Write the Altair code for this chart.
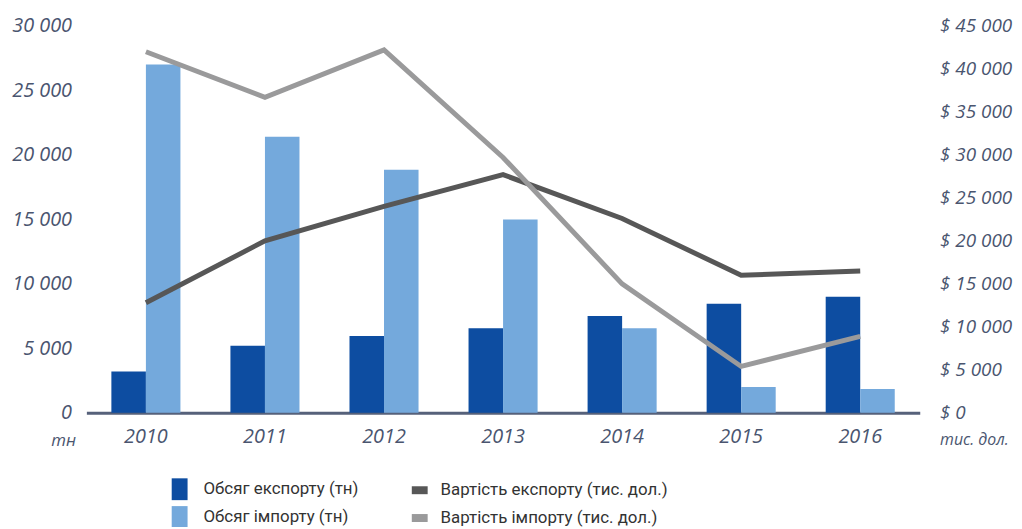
import altair as alt
import pandas as pd

years = ["2010", "2011", "2012", "2013", "2014", "2015", "2016"]
export_volume = [3200, 5200, 5950, 6550, 7500, 8450, 9000]
import_volume = [27000, 21400, 18850, 15000, 6550, 2000, 1850]
export_value = [12800, 20000, 24000, 27700, 22600, 16000, 16500]
import_value = [42000, 36700, 42200, 29700, 15000, 5400, 8900]

bar_series = ["Обсяг експорту (тн)", "Обсяг імпорту (тн)"]
line_series = ["Вартість експорту (тис. дол.)", "Вартість імпорту (тис. дол.)"]

bar_colors = ["#0d4da1", "#74a9dc"]
line_colors = ["#575757", "#9a9a9b"]

left_ticks = [0, 5000, 10000, 15000, 20000, 25000, 30000]
right_ticks = [0, 5000, 10000, 15000, 20000, 25000, 30000, 35000, 40000, 45000]

bar_df = pd.DataFrame(
    [{"year": y, "series": bar_series[0], "value": v} for y, v in zip(years, export_volume)]
    + [{"year": y, "series": bar_series[1], "value": v} for y, v in zip(years, import_volume)]
)
line_df = pd.DataFrame(
    [{"year": y, "series": line_series[0], "value": v} for y, v in zip(years, export_value)]
    + [{"year": y, "series": line_series[1], "value": v} for y, v in zip(years, import_value)]
)

AX_COLOR = "#4a556f"
AX_FONT = "Open Sans"
LEG_FONT = "Roboto"

x_enc = alt.X(
    "year:N",
    sort=years,
    scale=alt.Scale(paddingInner=0.42, paddingOuter=0.21),
    axis=alt.Axis(
        title=None, labelAngle=0, ticks=False, grid=False,
        domainColor="#56617a", domainWidth=3,
        labelFont=AX_FONT, labelFontStyle="italic", labelFontSize=20,
        labelColor=AX_COLOR, labelPadding=14,
    ),
)

bars = alt.Chart(bar_df).mark_bar().encode(
    x=x_enc,
    xOffset=alt.XOffset("series:N", sort=bar_series,
                        scale=alt.Scale(paddingInner=0, paddingOuter=0)),
    y=alt.Y(
        "value:Q",
        scale=alt.Scale(domain=[0, 30000], nice=False),
        axis=alt.Axis(
            orient="left", values=left_ticks, grid=False, ticks=False, domain=False,
            labelExpr="replace(format(datum.value, ','), ',', ' ')",
            labelFont=AX_FONT, labelFontStyle="italic", labelFontSize=20,
            labelColor=AX_COLOR, labelPadding=15,
            title="тн", titleAngle=0, titleX=-11, titleY=418,
            titleAlign="right", titleBaseline="middle",
            titleFont=AX_FONT, titleFontStyle="italic", titleFontWeight="normal",
            titleFontSize=17, titleColor=AX_COLOR,
        ),
    ),
    fill=alt.Fill(
        "series:N",
        scale=alt.Scale(domain=bar_series, range=bar_colors),
        legend=alt.Legend(
            title=None, orient="none", legendX=83, legendY=456, direction="vertical",
            symbolType="M-0.727,-1L0.727,-1L0.727,1L-0.727,1Z", symbolSize=484,
            symbolStrokeWidth=0, symbolOpacity=1,
            labelFont=LEG_FONT, labelFontSize=17, labelColor="#333333",
            labelOffset=13, rowPadding=6, labelLimit=400,
        ),
    ),
)

lines = alt.Chart(line_df).mark_line(strokeWidth=5).encode(
    x=alt.X("year:N", sort=years),
    y=alt.Y(
        "value:Q",
        scale=alt.Scale(domain=[0, 45000], nice=False),
        axis=alt.Axis(
            orient="right", values=right_ticks, grid=False, ticks=False, domain=False,
            labelExpr="'$ ' + replace(format(datum.value, ','), ',', ' ')",
            labelFont=AX_FONT, labelFontStyle="italic", labelFontSize=19,
            labelColor=AX_COLOR, labelPadding=20,
            title="тис. дол.", titleAngle=0, titleX=20, titleY=417,
            titleAlign="left", titleBaseline="middle",
            titleFont=AX_FONT, titleFontStyle="italic", titleFontWeight="normal",
            titleFontSize=16, titleColor=AX_COLOR,
        ),
    ),
    stroke=alt.Stroke(
        "series:N",
        scale=alt.Scale(domain=line_series, range=line_colors),
        legend=alt.Legend(
            title=None, orient="none", legendX=324, legendY=456, direction="vertical",
            symbolType="stroke", symbolSize=256, symbolStrokeWidth=8,
            labelFont=LEG_FONT, labelFontSize=17, labelColor="#333333",
            labelOffset=9, rowPadding=-4, labelLimit=400,
        ),
    ),
)

chart = (
    alt.layer(bars, lines)
    .resolve_scale(y="independent")
    .properties(
        width=840, height=390,
        autosize=alt.AutoSizeParams(type="none"),
        padding={"left": 79, "top": 16, "right": 95, "bottom": 113},
    )
    .configure_view(stroke=None)
)

chart.save("out.html", embed_options={"renderer": "svg", "actions": False})
